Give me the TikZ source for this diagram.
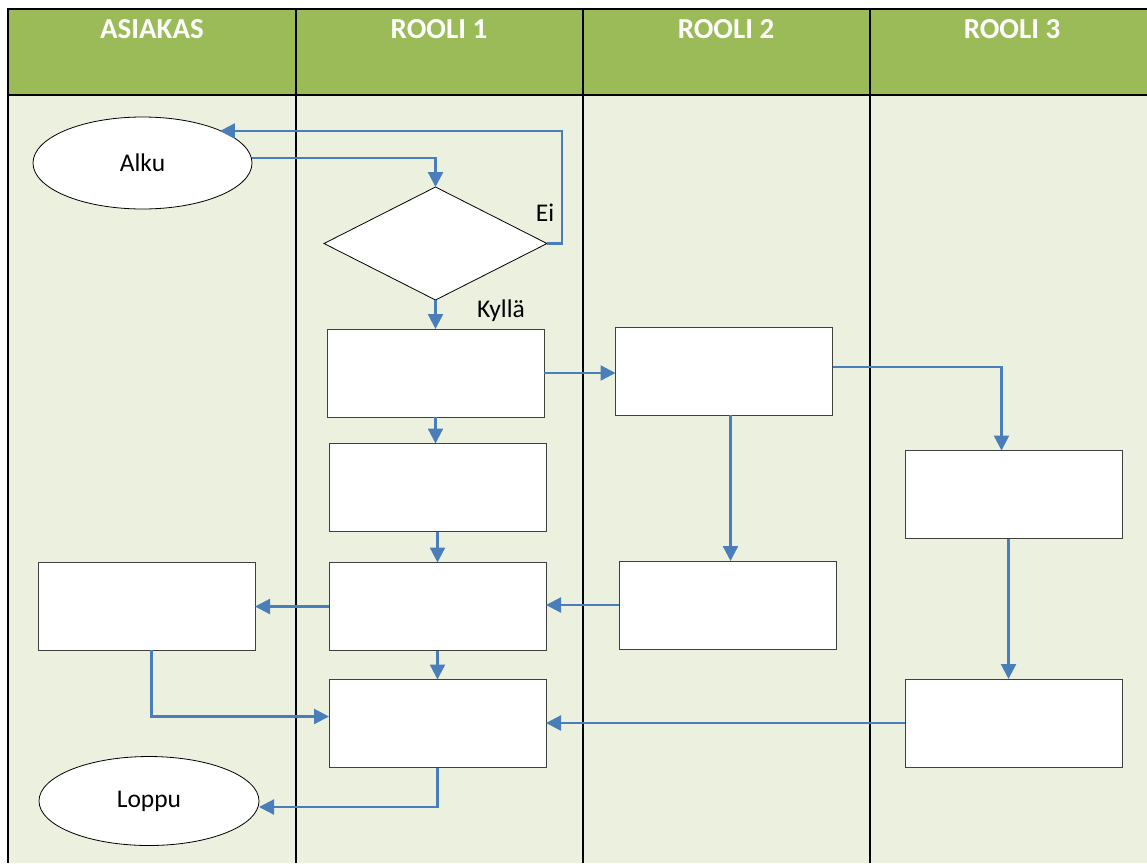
\documentclass[tikz,border=0pt]{standalone}
\usepackage{fontspec}
\setmainfont{Carlito}
\usetikzlibrary{shapes.geometric,arrows.meta}
\definecolor{hdrgreen}{HTML}{9BBB59}
\definecolor{lanebg}{HTML}{EBF1DE}
\definecolor{flowblue}{HTML}{4A7EBB}
\begin{document}
\begin{tikzpicture}[x=1pt,y=-1pt,
  stepbox/.style={rectangle, draw=black!75, fill=white, line width=0.9pt,
    minimum width=217pt, minimum height=88pt, inner sep=0pt, outer sep=0pt},
  terminal/.style={ellipse, draw=black, fill=white, line width=0.8pt,
    inner sep=0pt, outer sep=0pt, font=\fontsize{25.5}{30}\selectfont},
  decision/.style={diamond, draw=black, fill=white, line width=0.8pt,
    inner sep=0pt, outer sep=0pt, minimum width=223pt, minimum height=113pt},
  flow/.style={draw=flowblue, line width=2.3pt, -{Triangle[length=15pt,width=15pt]}},
  lanehead/.style={font=\fontsize{29}{34}\selectfont\bfseries, text=white},
  lbl/.style={font=\fontsize{25.5}{30}\selectfont},
  rule/.style={draw=black, line width=2.5pt}
]
\useasboundingbox (0,0) rectangle (1147,863);
\fill[white] (0,0) rectangle (1147,863);

% swimlane table
\fill[hdrgreen] (8,9) rectangle (1147,95);
\fill[lanebg] (8,95) rectangle (1147,863);
\draw[rule] (6.75,9) -- (1147,9);
\draw[rule] (8,95) -- (1147,95);
\foreach \lx in {8,296,583,870} \draw[rule] (\lx,9) -- (\lx,863);

\node[lanehead] (h0) at (152,29) {ASIAKAS};
\node[lanehead] (h1) at (439,29) {ROOLI 1};
\node[lanehead] (h2) at (726,29) {ROOLI 2};
\node[lanehead] (h3) at (1012,29) {ROOLI 3};

% shapes
\node[terminal, minimum width=219pt, minimum height=92pt] (alku) at (142.5,163) {Alku};
\node[decision] (dia) at (435.5,243.5) {};
\node[stepbox] (r1a) at (435.5,373) {};
\node[stepbox] (r2a) at (724,371) {};
\node[stepbox] (r1b) at (437.5,487.5) {};
\node[stepbox] (r3a) at (1013.5,494.5) {};
\node[stepbox] (asb) at (146.5,606) {};
\node[stepbox] (r1c) at (437.5,606.5) {};
\node[stepbox] (r2b) at (727.5,605) {};
\node[stepbox] (r1d) at (437.5,723.5) {};
\node[stepbox] (r3b) at (1013.5,723) {};
\node[terminal, minimum width=220pt, minimum height=89pt] (loppu) at (149,801) {Loppu};

\node[lbl] (ei) at (545,213) {Ei};
\node[lbl] (kylla) at (501,311) {Kyllä};

% helper points for off-centre connector ends
\coordinate (eiTurn) at (562,131);
\coordinate (r3in) at ([xshift=-12pt]r3a.north);
\coordinate (r2drop) at ([xshift=3pt]r2b.north);
\coordinate (r3drop) at ([xshift=-5pt]r3b.north);
\coordinate (asbdrop) at ([xshift=5pt]asb.south);
\coordinate (r1din) at ([yshift=7pt]r1d.west);
\coordinate (loppuin) at ([yshift=-6pt]loppu.east);

% connectors
\draw[flow] ([yshift=5pt]alku.east) -| (dia.north);
\draw[flow] (dia.east) -| (eiTurn) -- (eiTurn -| alku.north east);
\draw[flow] (dia.south) -- (r1a.north);
\draw[flow] (r1a.east) -- (r1a.east -| r2a.west);
\draw[flow] ([yshift=4pt]r2a.east) -| (r3in);
\draw[flow] (r1a.south) -- (r1a.south |- r1b.north);
\draw[flow] (r1b.south) -- (r1c.north);
\draw[flow] (r2drop |- r2a.south) -- (r2drop);
\draw[flow] (r1c.west) -- (r1c.west -| asb.east);
\draw[flow] (r2b.west) -- (r2b.west -| r1c.east);
\draw[flow] (r3drop |- r3a.south) -- (r3drop);
\draw[flow] (asbdrop) |- (r1din);
\draw[flow] (r1c.south) -- (r1c.south |- r1d.north);
\draw[flow] (r3b.west) -- (r3b.west -| r1d.east);
\draw[flow] (r1d.south) |- (loppuin);
\end{tikzpicture}
\end{document}
